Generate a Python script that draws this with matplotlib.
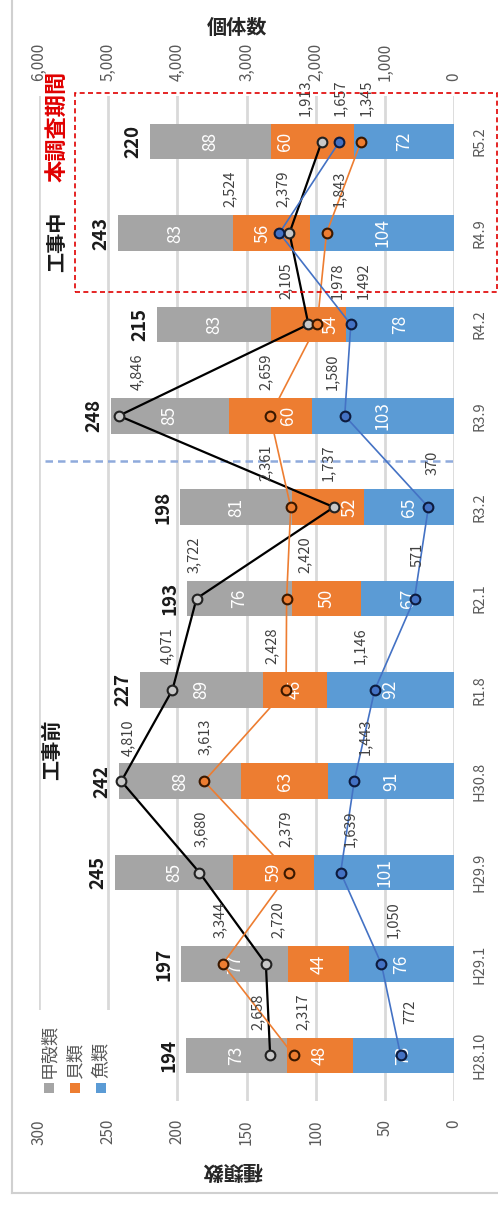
import matplotlib
matplotlib.use('Agg')
import matplotlib.pyplot as plt
from matplotlib.patches import Rectangle
from matplotlib.lines import Line2D
import numpy as np

plt.rcParams['font.family'] = ['Noto Sans CJK JP', 'DejaVu Sans']

# ---------------- data ----------------
categories = ['H28.10', 'H29.1', 'H29.9', 'H30.8', 'R1.8', 'R2.1',
              'R3.2', 'R3.9', 'R4.2', 'R4.9', 'R5.2']
series_names = ['甲殻類', '貝類', '魚類']
crust_species = [73, 77, 85, 88, 89, 76, 81, 85, 83, 83, 88]
shell_species = [48, 44, 59, 63, 46, 50, 52, 60, 54, 56, 60]
fish_species = [73, 76, 101, 91, 92, 67, 65, 103, 78, 104, 72]
crust_count = [2658, 2720, 3680, 4810, 4071, 3722, 1737, 4846, 2105, 2379, 1913]
shell_count = [2317, 3344, 2379, 3613, 2428, 2420, 2361, 2659, 1978, 1843, 1345]
fish_count = [772, 1050, 1639, 1443, 1146, 571, 370, 1580, 1492, 2524, 1657]
species_ticks = [0, 50, 100, 150, 200, 250, 300]
count_ticks = [0, 1000, 2000, 3000, 4000, 5000, 6000]

# ---------------- layout helpers (label nudges, pixels) ----------------
crust_dx = [-12, 12, 1, 7, -5, -3, -6, 18, -23, -7, -17]
shell_dx = [9, -3, -4, 1, -14, 18, -25, -4, 20, 13, 5]
fish_dx = [10, 12, 9, 11, -15, 3, 4, -13, 12, -50, 1]
shell_seg_dx = [0, 0, 0, 0, 0, 0, 21, 18, 22, -9, -28]

W, H = 498, 1207
fig = plt.figure(figsize=(W / 100, H / 100), dpi=100)
fig.patch.set_facecolor('white')

def fx(px):
    return px / W

def fy(py):
    return 1 - py / H

C_GRAY = '#A5A5A5'
C_ORANGE = '#ED7D31'
C_BLUE = '#5B9BD5'
C_LBLUE = '#4472C4'
TXT = '#595959'

left, right, top, bottom = 39, 454, 96, 1101
ax = fig.add_axes([fx(left), fy(bottom), fx(right - left), (bottom - top) / H])
ax.set_xlim(300, 0)
ax.set_ylim(-0.5, 10.5)

y = np.arange(len(categories))
crust = np.array(crust_species)
shell = np.array(shell_species)
fish = np.array(fish_species)
totals = crust + shell + fish
bh = 0.39
ax.barh(y, fish, height=bh, color=C_BLUE, zorder=2)
ax.barh(y, shell, left=fish, height=bh, color=C_ORANGE, zorder=2)
ax.barh(y, crust, left=fish + shell, height=bh, color=C_GRAY, zorder=2)

# segment labels
for i in range(len(y)):
    ax.text(fish[i] / 2, y[i], str(fish[i]), rotation=90, ha='center', va='center',
            color='white', fontsize=12.5, zorder=3)
    ax.annotate(str(shell[i]), (fish[i] + shell[i] / 2, y[i]), xytext=(shell_seg_dx[i], 0),
                textcoords='offset pixels', rotation=90, ha='center', va='center',
                color='white', fontsize=12.5, zorder=3)
    ax.text(fish[i] + shell[i] + crust[i] / 2, y[i], str(crust[i]), rotation=90,
            ha='center', va='center', color='white', fontsize=12.5, zorder=3)
    ax.annotate(str(totals[i]), (totals[i], y[i]), xytext=(-17, 0),
                textcoords='offset pixels', rotation=90, ha='center', va='center',
                color='#1a1a1a', fontsize=13.5, fontweight='bold', zorder=3)

ax.set_xticks(species_ticks)
ax.set_xticklabels([str(v) for v in species_ticks], rotation=90, fontsize=11, color=TXT)
ax.tick_params(axis='x', length=0, pad=13)
ax.set_yticks(y)
ax.set_yticklabels(categories, rotation=90, va='center', fontsize=10.5, color=TXT)
ax.yaxis.tick_right()
ax.tick_params(axis='y', length=0, pad=13)
ax.grid(axis='x', color='#D9D9D9', lw=2)
ax.set_axisbelow(True)
for s in ax.spines.values():
    s.set_visible(False)

# divider between before/during construction
ax.plot([296, -2], [6.5, 6.5], color='#8FAADC', lw=1.8, ls=(0, (3, 2)),
        zorder=2.5, clip_on=False)

# ---------------- secondary axis (個体数) ----------------
ax2 = ax.twiny()
ax2.set_xlim(6000, 0)
ax2.set_ylim(-0.5, 10.5)
ax2.set_xticks(count_ticks)
ax2.set_xticklabels([f'{v:,}' for v in count_ticks], rotation=90, fontsize=11, color=TXT)
ax2.tick_params(axis='x', length=0, pad=11)
for s in ax2.spines.values():
    s.set_visible(False)

lines = [
    (crust_count, 'black', 1.6, '#C8C8C8', '#222222', crust_dx),
    (shell_count, C_ORANGE, 1.2, C_ORANGE, '#3a1800', shell_dx),
    (fish_count, C_LBLUE, 1.2, C_LBLUE, '#0d1b3e', fish_dx),
]
for vals, lc, lw, mfc, mec, dxs in lines:
    ax2.plot(vals, y, color=lc, lw=lw, marker='o', ms=7, mfc=mfc, mec=mec,
             mew=1.5, zorder=4)
for vals, lc, lw, mfc, mec, dxs in lines:
    for i, v in enumerate(vals):
        ax2.annotate(f'{v:,}', (v, y[i]), xytext=(dxs[i], 44), textcoords='offset pixels',
                     rotation=90, ha='center', va='center', fontsize=10.5,
                     color='#404040', zorder=5)

# ---------------- figure-level decorations ----------------
fig.text(fx(237), fy(27), '個体数', ha='center', va='center', fontsize=14.5,
         fontweight='bold', color='#262626')
fig.text(fx(232), fy(1170), '種類数', ha='center', va='center', fontsize=14.5,
         fontweight='bold', color='#262626', rotation=180)

fig.text(fx(58), fy(126), '本調査期間', ha='center', va='center', rotation=90,
         fontsize=16, fontweight='bold', color='#E00000')
fig.text(fx(57), fy(242), '工事中', ha='center', va='center', rotation=90,
         fontsize=14.5, fontweight='bold', color='#1a1a1a')
fig.text(fx(52), fy(750), '工事前', ha='center', va='center', rotation=90,
         fontsize=14.5, fontweight='bold', color='#1a1a1a')

# red dashed survey-period frame
fig.patches.append(Rectangle((fx(75), fy(292)), fx(497 - 75), (292 - 93) / H,
                             transform=fig.transFigure, fill=False, ec='#E00000',
                             lw=1.2, ls=(0, (3, 2)), zorder=6))

# legend
fig.patches.append(Rectangle((fx(30), fy(1102)), fx(86), (1102 - 1010) / H,
                             transform=fig.transFigure, fc='white', ec='none', zorder=5))
leg_x = [49, 75, 101]
leg_c = [C_GRAY, C_ORANGE, C_BLUE]
for name, xx, cc in zip(series_names, leg_x, leg_c):
    fig.patches.append(Rectangle((fx(xx - 5), fy(1093)), fx(10), 10 / H,
                                 transform=fig.transFigure, fc=cc, ec='none', zorder=6))
    fig.text(fx(xx), fy(1078), name, rotation=90, ha='center', va='bottom',
             fontsize=13, color=TXT, zorder=6)

# outer frame
fig.lines.append(Line2D([fx(12), fx(12)], [fy(1193), 1.0], transform=fig.transFigure,
                        color='#D0D0D0', lw=1.5))
fig.lines.append(Line2D([fx(12), 1.0], [fy(1193), fy(1193)], transform=fig.transFigure,
                        color='#D0D0D0', lw=1.5))

fig.savefig('out.png', dpi=100)
